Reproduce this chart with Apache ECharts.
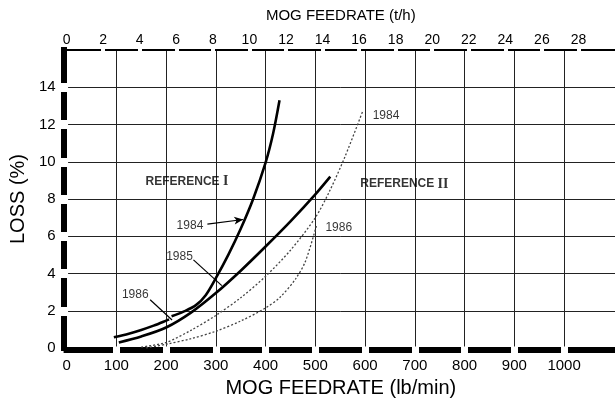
<!DOCTYPE html>
<html>
<head>
<meta charset="utf-8">
<script src="https://cdn.jsdelivr.net/npm/echarts@6/dist/echarts.min.js"></script>
<style>
html, body { margin: 0; padding: 0; background: #fff; }
#chart { width: 615px; height: 404px; }
</style>
</head>
<body>
<div id="chart"></div>
<script>
// bottom axis lb/min, top axis t/h (30 t/h = 1102.3 lb/min)
const lbMax = 1102.3
const thMax = 30
const lbLabels = [0, 100, 200, 300, 400, 500, 600, 700, 800, 900, 1000]
const thLabels = [0, 2, 4, 6, 8, 10, 12, 14, 16, 18, 20, 22, 24, 26, 28]
const lossLabels = [0, 2, 4, 6, 8, 10, 12, 14]

// Reference I (solid)
const ref1_1984 = [[211, 1.7], [235, 1.95], [260, 2.3], [280, 2.85], [300, 3.75], [325, 5.0], [350, 6.4], [375, 8.0], [400, 9.95], [415, 11.5], [428, 13.3]]
const ref1_1985 = [[105, 0.3], [150, 0.62], [200, 1.1], [250, 1.9], [300, 2.95], [350, 4.15], [400, 5.45], [450, 6.8], [500, 8.25], [530, 9.2]]
const ref1_1986 = [[95, 0.58], [125, 0.77], [150, 0.97], [175, 1.2], [200, 1.47], [206, 1.54]]
// Reference II (dotted)
const ref2_1984 = [[150, 0.05], [200, 0.3], [250, 0.95], [300, 1.75], [350, 2.7], [400, 3.85], [450, 5.25], [500, 7.0], [530, 8.5], [560, 10.3], [595, 12.7]]
const ref2_1986 = [[160, 0.0], [200, 0.2], [250, 0.5], [300, 0.9], [350, 1.45], [400, 2.15], [430, 2.75], [460, 3.7], [480, 4.65], [502, 6.55]]

// annotations, in data units
const noteText = ['REFERENCE I', 'REFERENCE II', '1984', '1985', '1986', '1984', '1986']
const noteX = [242, 679, 248, 227, 138, 642, 547]
const noteY = [8.92, 8.81, 6.57, 4.9, 2.86, 12.46, 6.47]
const leaders = [
  [[168, 2.59], [212, 1.5]],
  [[255, 4.73], [312, 3.35]]
]
const arrow1984 = [[283, 6.65], [355, 6.9]]

const font = 'Liberation Sans'
const chart = echarts.init(document.getElementById('chart'))

function curve (name, data, dotted) {
  return {
    name: name,
    type: 'line',
    xAxisIndex: 0,
    data: data,
    symbol: 'none',
    smooth: 0.3,
    silent: true,
    lineStyle: dotted
      ? { color: '#444', width: 1.3, type: [2, 2] }
      : { color: '#000', width: 2.6 }
  }
}

const markData = leaders.map(l => [{ coord: l[0] }, { coord: l[1] }])
markData.push([{ coord: arrow1984[0] }, { coord: arrow1984[1], symbol: 'arrow', symbolSize: [6, 9] }])

const option = {
  animation: false,
  textStyle: { fontFamily: font },
  grid: { left: 63, right: 0, top: 50, bottom: 56 },
  xAxis: [
    {
      type: 'value',
      position: 'bottom',
      min: 0,
      max: lbMax,
      interval: 100,
      offset: 2,
      name: 'MOG FEEDRATE (lb/min)',
      nameLocation: 'middle',
      nameGap: 28,
      nameTextStyle: { fontSize: 20, color: '#000', fontFamily: font },
      axisLine: { onZero: false, lineStyle: { color: '#000', width: 6, cap: 'square' } },
      axisTick: { show: true, customValues: lbLabels.slice(1), length: 6, lineStyle: { color: '#fff', width: 7, cap: 'square' } },
      axisLabel: { customValues: lbLabels, fontSize: 15, color: '#000', margin: 8, fontFamily: font, formatter: v => String(v) },
      splitLine: { show: true, lineStyle: { color: '#222', width: 1 } }
    },
    {
      type: 'value',
      position: 'top',
      min: 0,
      max: thMax,
      interval: 2,
      name: 'MOG FEEDRATE (t/h)',
      nameLocation: 'middle',
      nameGap: 27,
      nameTextStyle: { fontSize: 15, color: '#000', fontFamily: font },
      axisLine: { onZero: false, lineStyle: { color: '#000', width: 2 } },
      axisTick: { show: true, customValues: thLabels.slice(1), length: 1, lineStyle: { color: '#fff', width: 4, cap: 'square' } },
      axisLabel: { customValues: thLabels, fontSize: 14, color: '#000', margin: 3, fontFamily: font },
      splitLine: { show: false }
    }
  ],
  yAxis: {
    type: 'value',
    min: 0,
    max: 16,
    interval: 2,
    offset: 3,
    name: 'LOSS (%)',
    nameLocation: 'middle',
    nameRotate: 90,
    nameGap: 35,
    nameTextStyle: { fontSize: 20, color: '#000', fontFamily: font },
    axisLine: { show: true, onZero: false, lineStyle: { color: '#000', width: 6, cap: 'square' } },
    axisTick: { show: true, customValues: lossLabels.slice(1), length: 6, lineStyle: { color: '#fff', width: 9, cap: 'square' } },
    axisLabel: { customValues: lossLabels, fontSize: 15, color: '#000', margin: 8, fontFamily: font },
    splitLine: { show: true, lineStyle: { color: '#222', width: 1 } }
  },
  series: [
    curve('ref2_1984', ref2_1984, true),
    curve('ref2_1986', ref2_1986, true),
    curve('ref1_1986', ref1_1986, false),
    curve('ref1_1985', ref1_1985, false),
    curve('ref1_1984', ref1_1984, false),
    {
      name: 'notes',
      type: 'scatter',
      silent: true,
      symbolSize: 0,
      data: noteText.map((t, i) => ({ value: [noteX[i], noteY[i]], name: t })),
      label: {
        show: true,
        position: 'inside',
        color: '#000',
        fontSize: 12,
        fontFamily: font,
        formatter: p => {
          const m = p.name.match(/^REFERENCE (I+)$/)
          return m ? '{a|REFERENCE} {b|' + m[1] + '}' : p.name
        },
        rich: {
          a: { fontSize: 12, fontWeight: 'bold', fontFamily: font, color: '#000' },
          b: { fontSize: 14, fontWeight: 'bold', fontFamily: 'Liberation Serif', color: '#000' }
        }
      },
      markLine: {
        silent: true,
        symbol: ['none', 'none'],
        label: { show: false },
        lineStyle: { color: '#000', width: 1.2, type: 'solid' },
        data: markData
      }
    }
  ]
}

chart.setOption(option)
window.onresize = function () {
  chart.resize()
}
</script>
</body>
</html>
